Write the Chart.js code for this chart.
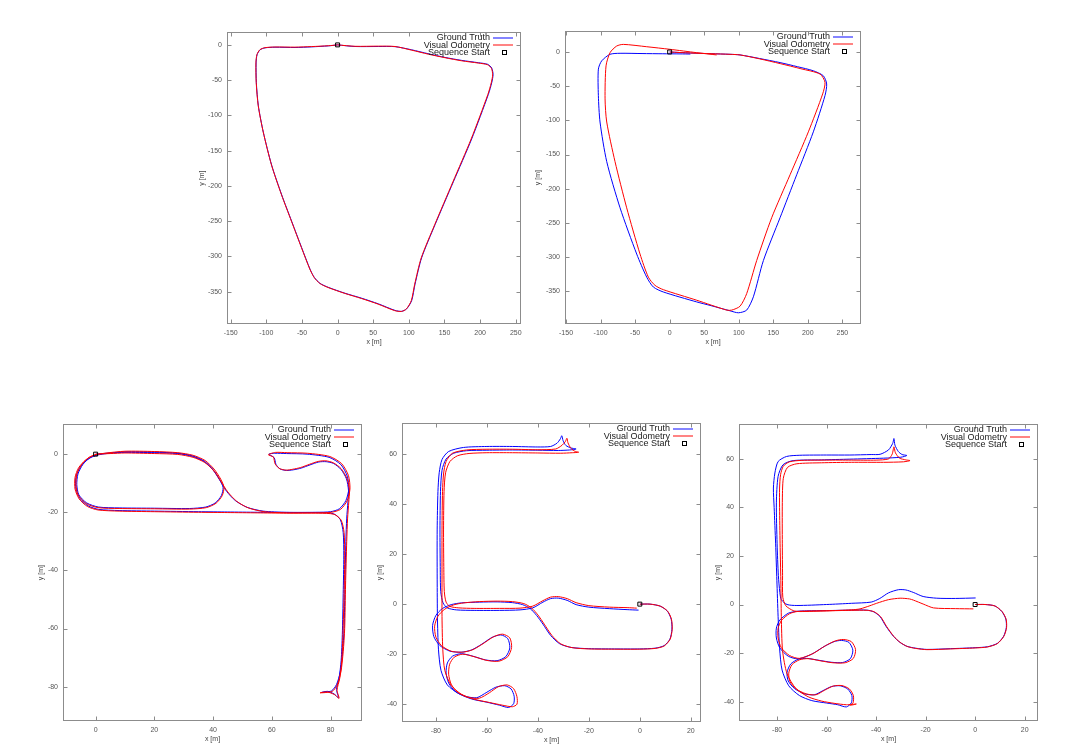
<!DOCTYPE html>
<html><head><meta charset="utf-8">
<script src="https://cdn.jsdelivr.net/npm/chart.js@4/dist/chart.umd.min.js"></script>
<style>
html,body{margin:0;padding:0;background:#fff;width:1080px;height:756px;overflow:hidden;position:relative}
canvas{position:absolute}
</style>
</head><body>
<script>
// ---------- shared labels ----------
const legendLabels = ['Ground Truth', 'Visual Odometry', 'Sequence Start'];
const xTitle = 'x [m]';
const yTitle = 'y [m]';
const startPoint = [[0, 0]];

// ---------- plot 1 (top left) ----------
const xTicks1 = [-150, -100, -50, 0, 50, 100, 150, 200, 250];
const yTicks1 = [-350, -300, -250, -200, -150, -100, -50, 0];
const gt1 = [[0,0],[24.5,-2.3],[57.2,-2.3],[80.6,-2.5],[104,-7],[127.4,-12.6],[150.8,-17.8],[174.2,-22],[197.6,-25.3],[210.7,-27.6],[216.3,-32.8],[218.2,-42.1],[216.3,-53.8],[211.6,-70.2],[188.2,-133.4],[162.5,-194.2],[136.8,-255],[118,-301.9],[108.7,-339.3],[104,-362.7],[97,-374.4],[90,-378],[80.6,-376.7],[57.2,-367.4],[33.8,-359.4],[10.5,-352.4],[-13,-344],[-24.6,-338.4],[-32.6,-330],[-38.7,-318.2],[-50.4,-287.8],[-64.4,-250.4],[-78.4,-212.9],[-92.5,-170.8],[-104.2,-124],[-111.2,-86.6],[-114,-53.8],[-114.4,-25.7],[-113,-14],[-108.8,-7],[-101.8,-4.2],[-87.8,-3.3],[-59.7,-3.7],[-36.3,-2.8],[-12.9,-1.4],[0,0]];
const vo1 = [[0,0],[24.5,-2.0],[57.2,-1.8],[80.6,-2.3],[104,-7.5],[127.4,-13.2],[150.8,-18.2],[174.2,-22.6],[197.6,-25.8],[210.5,-28.2],[216,-33.5],[217.6,-42.6],[215.6,-54],[210.8,-70.6],[187.4,-133.6],[161.8,-194.4],[136.2,-255.3],[117.4,-302.2],[108.2,-339.6],[103.4,-363],[96.4,-374.8],[89.5,-378.2],[80,-377],[56.8,-367.8],[33.4,-359.8],[10.2,-352.6],[-13.4,-344.2],[-25,-338.4],[-33,-329.8],[-39,-318],[-50.8,-287.4],[-64.8,-250],[-78.8,-212.4],[-92.8,-170.2],[-104.4,-123.4],[-111.4,-86],[-114.2,-53.4],[-114.6,-25.4],[-113.2,-13.8],[-109,-6.8],[-102,-4],[-88,-3],[-60,-3.2],[-36.5,-2.4],[-13,-1.2],[0,0]];

// ---------- plot 2 (top right) ----------
const xTicks2 = [-150, -100, -50, 0, 50, 100, 150, 200, 250];
const yTicks2 = [-350, -300, -250, -200, -150, -100, -50, 0];
const gt2 = [[0,0],[30,-1.5],[60,-2.5],[87.4,-3.4],[101.9,-4.3],[130,-9.5],[159.8,-15.5],[185,-21.5],[208,-27.5],[222.5,-34.8],[227.3,-46.8],[224.9,-63.7],[208,-116.8],[183.9,-179.6],[159.8,-242.4],[135.7,-305],[121.2,-358],[111.5,-377.5],[99.5,-381.4],[87.4,-378.5],[60,-371],[39.1,-365.5],[-9.1,-351],[-23.6,-343.7],[-33.2,-329.3],[-47.7,-295.5],[-71.8,-227.9],[-91.1,-160.3],[-100.8,-102.4],[-103.2,-63.7],[-103.2,-25.1],[-98.4,-13],[-86.3,-3.4],[-71.8,-1.9],[-40,-2.3],[-10,-2.6],[15,-2.8],[30,-3]];
const vo2 = [[0,0],[30,-1.5],[60,-2.5],[87.4,-3.4],[101.9,-4.3],[130,-10],[160,-17],[190,-24.5],[217.7,-32.3],[224.9,-44.4],[221.5,-61.3],[200.8,-116.8],[174.3,-179.6],[147.7,-242.4],[126,-305],[111.5,-353.4],[101.9,-371.8],[89.8,-377.5],[82.6,-377.5],[39.1,-363],[-9.1,-347.6],[-21.2,-341.3],[-30.8,-329.3],[-42.9,-295.5],[-62.2,-227.9],[-79.1,-160.3],[-91.1,-102.4],[-93.5,-68.6],[-92.1,-20.3],[-86.3,-1],[-76.7,8.7],[-67,11.1],[-33.2,7.7],[0.5,3.9],[39.1,-1],[68,-4.3]];

// ---------- plot 3 (bottom left) ----------
const xTicks3 = [0, 20, 40, 60, 80];
const yTicks3 = [-80, -60, -40, -20, 0];
const gt3 = [[0,0],[5,0.4],[10,0.6],[20,0.5],[28,0.2],[33,-0.8],[37,-2.6],[40,-5.5],[42.3,-9],[44.6,-12.8],[47.6,-16],[51.6,-18.3],[57,-19.6],[65,-20],[75,-20],[80,-19.8],[83,-18.8],[85.2,-16],[86.2,-12],[85.7,-7.6],[83.5,-3.6],[79.5,-1.1],[72,0],[65,0.2],[61,0.3],[59,0],[60.8,-1.2],[61.4,-3.5],[62.8,-5.1],[65,-5.6],[67.3,-5.4],[70,-4.8],[73,-3.7],[76,-2.7],[78.5,-2.6],[81,-3.2],[83.5,-5.2],[85.4,-8.5],[86.1,-12.5],[85.9,-16.5],[85.5,-22],[85.2,-30],[84.9,-45],[84.6,-60],[84.1,-68],[83.3,-75],[82,-79.3],[80.4,-81.4],[78.5,-81.8],[76.8,-82],[79,-81.6],[81.2,-82.5],[82.7,-83.8],[82,-81],[82.9,-77],[83.6,-71],[84,-62],[84.3,-48],[84.5,-35],[84.3,-27],[83.3,-22.5],[81,-20.5],[76,-20.1],[65,-20.1],[55,-20],[45,-19.9],[35,-19.8],[20,-19.6],[8,-19.4],[1,-19],[-2.5,-17.8],[-5.3,-15.3],[-6.7,-12],[-6.7,-8],[-5.5,-4.8],[-3.2,-2.2],[-0.5,-0.6],[3,0.1],[10,0.8],[20,0.7],[28,0.3],[33,-0.6],[37,-2.4],[40,-5.3],[42.3,-8.8],[43.4,-11.5],[42.8,-14.3],[40.7,-16.8],[37.5,-18.2],[32,-18.7],[20,-18.6],[8,-18.5],[1,-18.2],[-3,-16.8],[-5.7,-14],[-6.4,-10.5],[-6,-6.8],[-4.3,-3.5],[-2,-1.3],[0.5,-0.3]];
const vo3 = [[0,0],[5,0.2],[10,0.4],[20,0.2],[28,-0.1],[33.2,-1.1],[37.2,-2.9],[40.3,-5.8],[42.6,-9.3],[45,-13],[48,-16.2],[52,-18.5],[57.4,-19.8],[65.3,-20.2],[75.3,-20.2],[80.3,-20],[83.4,-19],[85.6,-16.1],[86.6,-12],[86.1,-7.4],[83.8,-3.3],[79.7,-0.8],[72.2,0.3],[65.2,0.5],[61.2,0.6],[58.8,-0.2],[60.5,-1],[61.1,-3.3],[62.5,-4.9],[64.8,-5.5],[67.1,-5.2],[69.8,-4.6],[72.8,-3.5],[75.8,-2.5],[78.4,-2.3],[81,-3],[83.6,-5],[85.6,-8.4],[86.4,-12.4],[86.2,-16.5],[85.8,-22],[85.5,-30],[85.1,-45],[84.8,-60],[84.3,-68],[83.5,-75],[82.2,-79.5],[80.6,-81.6],[78.4,-82],[76.4,-82.1],[78.8,-81.8],[81.3,-82.7],[82.9,-84],[82.2,-81.2],[83.1,-77.2],[83.8,-71],[84.2,-62],[84.6,-48],[84.8,-35],[84.6,-27],[83.6,-22.7],[81.2,-20.7],[76,-20.3],[65,-20.3],[55,-20.2],[45,-20.1],[35,-20],[20,-19.8],[8,-19.6],[0.8,-19.2],[-2.8,-18],[-5.6,-15.4],[-7,-12],[-7,-8],[-5.8,-4.7],[-3.4,-2],[-0.7,-0.4],[3,0.3],[10,1],[20,0.9],[28,0.5],[33.2,-0.4],[37.3,-2.2],[40.3,-5.1],[42.6,-8.6],[43.7,-11.4],[43.1,-14.3],[41,-16.9],[37.7,-18.4],[32,-18.9],[20,-18.8],[8,-18.7],[0.8,-18.4],[-3.2,-17],[-5.9,-14.1],[-6.7,-10.5],[-6.3,-6.7],[-4.5,-3.3],[-2.2,-1.1],[0.3,-0.1]];

// ---------- plot 4 (bottom middle) ----------
const xTicks4 = [-80, -60, -40, -20, 0, 20];
const yTicks4 = [-40, -20, 0, 20, 40, 60];
const gt4 = [[0,0],[4,0],[8,-0.8],[10.8,-2.8],[12.3,-6],[12.6,-10],[11.8,-14],[9.5,-16.6],[6,-17.6],[0,-17.9],[-10,-17.9],[-20,-17.8],[-27,-17.3],[-31.5,-15.8],[-35,-12.5],[-38,-8],[-40.5,-4.5],[-43,-1.8],[-46,-0.2],[-50,0.6],[-56,0.9],[-63,0.8],[-70,0.5],[-74,-0.2],[-77.5,-1.8],[-80,-4.5],[-81.3,-8.5],[-80.8,-13],[-78.5,-16.5],[-74.5,-18.8],[-70,-19.2],[-66,-18.3],[-62,-16],[-58,-13.3],[-54.5,-12.3],[-51.8,-13.8],[-51,-17.5],[-52.6,-21],[-56,-22.6],[-60.5,-22.3],[-65.5,-20.8],[-70,-19.8],[-73.5,-20.8],[-75.5,-23.5],[-76,-27.5],[-75,-31.5],[-72.5,-34.8],[-68.5,-36.8],[-64,-37.4],[-60,-35.2],[-56.5,-33.2],[-53,-32.6],[-50.5,-33.9],[-49.3,-36.8],[-49.5,-39.8],[-51.5,-41.3],[-55,-40.4],[-60,-39.2],[-66,-37.9],[-71,-35.8],[-75.5,-32.3],[-78,-26.5],[-79,-18],[-79.4,-5],[-79.5,10],[-79.5,30],[-79.2,45],[-78.7,52.5],[-77.6,57.8],[-75,61],[-69.2,62.6],[-60,63],[-50,63],[-40,62.8],[-35,63],[-32.5,64.3],[-31.2,66],[-30.6,67.3],[-30.1,65.3],[-29,63.4],[-27,62.4],[-25,62],[-27.5,61.6],[-32,61.4],[-40,61.5],[-50,61.6],[-60,61.5],[-68,61.3],[-73,60.3],[-76,58],[-77.6,53.5],[-78.2,45],[-78.4,30],[-78.3,15],[-78.1,5],[-77.2,0.5],[-75.5,-1.5],[-72,-2.3],[-65,-2.5],[-55,-2.5],[-47,-2.3],[-42,-1.5],[-38,0.8],[-35,2.2],[-32,2.4],[-28.5,1.5],[-25,-0.2],[-20,-1.2],[-12,-1.8],[-5,-2.2],[-0.5,-2.4]];
const vo4 = [[0,0],[4,0],[8,-0.8],[10.9,-2.8],[12.4,-6],[12.7,-10],[11.9,-14],[9.6,-16.7],[6,-17.7],[0,-18],[-10,-18],[-20,-17.9],[-26.5,-17.4],[-31,-15.9],[-34.5,-12.5],[-37.5,-8],[-40,-4.3],[-42.5,-1.5],[-45.5,0.2],[-50,1],[-56,1.2],[-63,1],[-69,0.5],[-73,-0.3],[-76.5,-2],[-79.2,-4.8],[-80.5,-8.8],[-80,-13.2],[-77.8,-16.6],[-74,-18.8],[-69.5,-19.2],[-65.5,-18.2],[-61.5,-15.8],[-57.3,-13],[-53.8,-12],[-51,-13.5],[-50.3,-17.3],[-51.8,-21],[-55.3,-22.8],[-60,-22.5],[-65,-21],[-69.5,-20],[-72.8,-21.2],[-74.6,-24],[-75,-28],[-74,-32],[-71.5,-35.2],[-67.5,-37.2],[-63,-37.6],[-59,-35.4],[-55.5,-33],[-52,-32.3],[-49.5,-33.8],[-48.2,-37],[-48.2,-40],[-50,-41],[-53.8,-40.4],[-59,-39.3],[-65,-38],[-70,-36],[-74,-32.5],[-76.5,-26.5],[-77.3,-18],[-77.6,-5],[-77.6,10],[-77.6,30],[-77.4,45],[-77,52],[-76,57],[-73.5,60.3],[-68,61.6],[-60,61.9],[-50,61.9],[-40,61.7],[-33,62],[-30.5,63.5],[-29.2,65],[-28.6,66.3],[-28.2,64.5],[-27,62.2],[-25.5,61.1],[-24,60.7],[-26.5,60.5],[-31,60.3],[-40,60.4],[-50,60.5],[-60,60.5],[-67,60.2],[-71.5,59.3],[-74.5,57],[-76.2,52.5],[-76.8,45],[-77,30],[-76.9,15],[-76.7,5],[-76,0.8],[-74.5,-0.9],[-71,-1.5],[-65,-1.7],[-55,-1.7],[-47,-1.6],[-42,-0.8],[-38,1.4],[-35,2.8],[-32,3],[-28.5,2.2],[-25,0.6],[-20,-0.6],[-12,-1.2],[-5,-1.4],[-1.2,-1.6]];

// ---------- plot 5 (bottom right) ----------
const xTicks5 = [-80, -60, -40, -20, 0, 20];
const yTicks5 = [-40, -20, 0, 20, 40, 60];
const gt5 = [[0,0],[4,0],[8,-0.6],[10.8,-2.9],[12.4,-6],[12.6,-9.5],[11.5,-13.1],[9,-16],[5,-17.4],[0,-17.8],[-10,-18.2],[-19.5,-18.5],[-24,-18],[-27.6,-17.2],[-30.5,-15.5],[-33,-13.1],[-36,-9],[-38.4,-5],[-41,-3],[-43.8,-2.3],[-50,-2.3],[-60,-2.5],[-68,-2.6],[-72,-2.8],[-75.5,-3.6],[-78.9,-6.4],[-80.3,-9.7],[-80.3,-13.8],[-78.9,-17.9],[-75.5,-21.3],[-71.5,-22.4],[-66.1,-20.5],[-61,-17.3],[-57,-15.3],[-54,-14.8],[-51,-15.6],[-49.4,-18.8],[-50.4,-22.3],[-53.5,-23.9],[-58,-23.8],[-63,-23],[-68,-22.2],[-71.5,-22.6],[-74.5,-24.5],[-76,-28],[-75.5,-31.5],[-73,-34.6],[-69,-36.8],[-65,-37.2],[-61.5,-35.5],[-58,-33.8],[-54.5,-33.5],[-51.5,-34.8],[-49.8,-37.5],[-50,-40.5],[-52,-42.2],[-55.5,-41.3],[-60,-40.6],[-66,-39.6],[-71,-37.5],[-75.3,-33.5],[-78,-27],[-79,-18],[-79.6,-5],[-80.1,10],[-80.6,25],[-81.2,40],[-81.5,48],[-80.9,54.2],[-79.6,58.9],[-76.2,61],[-70.8,61.5],[-60,61.6],[-50.6,61.6],[-42,61.8],[-38.4,61.9],[-35,63.7],[-33.3,66.4],[-32.8,68.4],[-32.4,65.7],[-31,63],[-29.5,61.8],[-27.6,61.4],[-30,60.7],[-37.1,60.3],[-50.6,59.9],[-62,59.6],[-73.5,59.3],[-77.6,57.6],[-79.6,52.8],[-80.3,41.9],[-80,25],[-79.5,12],[-78.9,5],[-78.3,2],[-76,0],[-72,-0.4],[-60,0],[-50,0.5],[-42,1],[-38.5,2.5],[-35,4.8],[-31,6.1],[-28,6],[-25,5],[-21,3.3],[-15.5,2.6],[-8,2.5],[0.2,2.7]];
const vo5 = [[0,0],[4,0],[8,-0.6],[10.9,-2.9],[12.5,-6],[12.7,-9.5],[11.6,-13.1],[9,-16.1],[5,-17.5],[0,-17.9],[-10,-18.3],[-19.5,-18.6],[-24,-18.1],[-27.4,-17.3],[-30.3,-15.6],[-32.8,-13.2],[-35.8,-9],[-38.2,-5],[-40.8,-3],[-43.6,-2.4],[-50,-2.4],[-60,-2.6],[-68,-2.7],[-72,-2.9],[-75,-3.8],[-78.2,-6.5],[-79.6,-9.8],[-79.6,-13.8],[-78.3,-17.8],[-75,-21],[-71,-22.2],[-65.5,-20.2],[-60.5,-17],[-56.5,-15],[-53.3,-14.4],[-50,-15.3],[-48.3,-18.6],[-49.2,-22.2],[-52.5,-24],[-57.5,-24],[-62.5,-23.2],[-67.5,-22.3],[-71,-22.8],[-74,-24.8],[-75.3,-28.3],[-74.8,-31.8],[-72.3,-34.8],[-68.3,-36.8],[-64.3,-37.2],[-60.8,-35.3],[-57.3,-33.6],[-53.8,-33.4],[-50.8,-34.8],[-49.2,-37.5],[-49.3,-40.5],[-50.5,-41.5],[-48,-41],[-52,-41.3],[-57,-40.7],[-62,-39.8],[-67.5,-38],[-72.5,-34.5],[-76,-28.5],[-77.8,-19],[-78.3,-5],[-78.5,10],[-78.8,25],[-79,40],[-79,48],[-78.6,53.5],[-77.5,57],[-75,58.8],[-70,59.4],[-60,59.5],[-50,59.5],[-40,59.5],[-35,60],[-33.5,62],[-32.8,65],[-32.2,62.5],[-30.5,60.3],[-28,59.6],[-26.3,59.3],[-29,58.8],[-37,58.6],[-50,58.6],[-62,58.4],[-72,58],[-75.8,56.5],[-77.5,52],[-77.9,42],[-77.9,25],[-77.8,12],[-77.7,3],[-76.5,-0.5],[-73.5,-2.5],[-70.8,-2.9],[-60,-2.6],[-50,-2.2],[-46.5,-1.8],[-42.5,-0.5],[-39.8,0.5],[-35,2],[-30.3,2.6],[-26.5,2.3],[-24.9,1.8],[-21,0.2],[-16.8,-1.4],[-8,-1.7],[-0.7,-1.8]];

// ---------- rendering ----------
const FONT = "'Liberation Sans', Arial, sans-serif";
const toXY = arr => arr.map(p => ({x: p[0], y: p[1]}));

const framePlugin = {
  id: 'frame',
  afterDraw(chart) {
    const {ctx, chartArea: a, scales: {x, y}} = chart;
    ctx.save();
    ctx.strokeStyle = '#8c8c8c';
    ctx.lineWidth = 1;
    const L = Math.round(a.left) + 0.5, T = Math.round(a.top) + 0.5;
    const R = Math.round(a.right) - 0.5, B = Math.round(a.bottom) - 0.5;
    ctx.strokeRect(L, T, R - L, B - T);
    ctx.beginPath();
    x.ticks.forEach(t => {
      const p = Math.round(x.getPixelForValue(t.value)) + 0.5;
      ctx.moveTo(p, B); ctx.lineTo(p, B - 4);
      ctx.moveTo(p, T); ctx.lineTo(p, T + 4);
    });
    y.ticks.forEach(t => {
      const p = Math.round(y.getPixelForValue(t.value)) + 0.5;
      ctx.moveTo(L, p); ctx.lineTo(L + 4, p);
      ctx.moveTo(R, p); ctx.lineTo(R - 4, p);
    });
    ctx.stroke();
    // key (top right, gnuplot style)
    const colors = ['#3333ff', '#ff3333', '#000'];
    ctx.font = '9px ' + FONT;
    ctx.textAlign = 'right';
    ctx.textBaseline = 'middle';
    legendLabels.forEach((lab, i) => {
      const yy = a.top + 5.8 + 7.1 * i;
      ctx.fillStyle = '#1a1a1a';
      ctx.fillText(lab, a.right - 31, yy);
      if (i < 2) {
        ctx.save();
        ctx.strokeStyle = colors[i];
        ctx.lineWidth = 1.2;
        ctx.beginPath();
        ctx.moveTo(a.right - 28, Math.round(yy));
        ctx.lineTo(a.right - 8, Math.round(yy));
        ctx.stroke();
        ctx.restore();
      } else {
        ctx.strokeStyle = '#000';
        ctx.strokeRect(Math.round(a.right - 19) + 0.5, Math.round(yy) - 1.5, 4, 4);
      }
    });
    ctx.restore();
  }
};

function makeChart(box, xr, yr, xt, yt, gt, vo, yGap) {
  const ML = 32, MT = 6, MR = 14, MB = 30;
  const cv = document.createElement('canvas');
  cv.width = box[2] + ML + MR;
  cv.height = box[3] + MT + MB;
  cv.style.left = (box[0] - ML) + 'px';
  cv.style.top = (box[1] - MT) + 'px';
  cv.style.width = cv.width + 'px';
  cv.style.height = cv.height + 'px';
  document.body.appendChild(cv);
  const tickFont = {family: FONT, size: 7};
  new Chart(cv.getContext('2d'), {
    type: 'scatter',
    data: {
      datasets: [
        {label: legendLabels[2], data: toXY(startPoint), showLine: false, pointStyle: 'rect', pointRadius: 2.8,
         borderColor: '#000', backgroundColor: 'rgba(0,0,0,0)', borderWidth: 1, order: 0},
        {label: legendLabels[1], data: toXY(vo), showLine: true, borderColor: '#ff0000', borderWidth: 1,
         pointRadius: 0, tension: 0.25, order: 1},
        {label: legendLabels[0], data: toXY(gt), showLine: true, borderColor: '#0000ff', borderWidth: 1,
         pointRadius: 0, tension: 0.25, order: 2}
      ]
    },
    options: {
      responsive: false, animation: false, devicePixelRatio: 1,
      layout: {padding: {left: 0, top: MT, right: MR, bottom: 0}},
      plugins: {legend: {display: false}, tooltip: {enabled: false}},
      events: [],
      scales: {
        x: {
          type: 'linear', position: 'bottom', min: xr[0], max: xr[1],
          afterBuildTicks: s => { s.ticks = xt.map(v => ({value: v})); },
          afterFit: s => { s.height = MB; },
          grid: {display: false, drawTicks: false}, border: {display: false},
          ticks: {font: tickFont, color: '#555', padding: 5, maxRotation: 0, autoSkip: false},
          title: {display: true, text: xTitle, font: tickFont, color: '#444', padding: {top: 0, bottom: 7.8}}
        },
        y: {
          type: 'linear', position: 'left', min: yr[0], max: yr[1],
          afterBuildTicks: s => { s.ticks = yt.map(v => ({value: v})); },
          afterFit: s => { s.width = ML; },
          grid: {display: false, drawTicks: false}, border: {display: false},
          ticks: {font: tickFont, color: '#555', padding: 5, autoSkip: false},
          title: {display: true, text: yTitle, font: tickFont, color: '#444', padding: {top: ML - yGap - 4.2, bottom: 0}}
        }
      }
    },
    plugins: [framePlugin]
  });
}

makeChart([227, 29, 294, 295], [-155.2, 257.4], [-396, 18], xTicks1, yTicks1, gt1, vo1, 25);
makeChart([565, 28, 296, 296], [-151.5, 277], [-397.8, 30.4], xTicks2, yTicks2, gt2, vo2, 27);
makeChart([63, 421, 299, 300], [-11.1, 90.7], [-91.8, 10.3], xTicks3, yTicks3, gt3, vo3, 22);
makeChart([402, 420, 299, 302], [-93.3, 24], [-47.1, 72.3], xTicks4, yTicks4, gt4, vo4, 22);
makeChart([739, 421, 299, 300], [-95.4, 25.4], [-48, 74.3], xTicks5, yTicks5, gt5, vo5, 21);
</script>
</body></html>
